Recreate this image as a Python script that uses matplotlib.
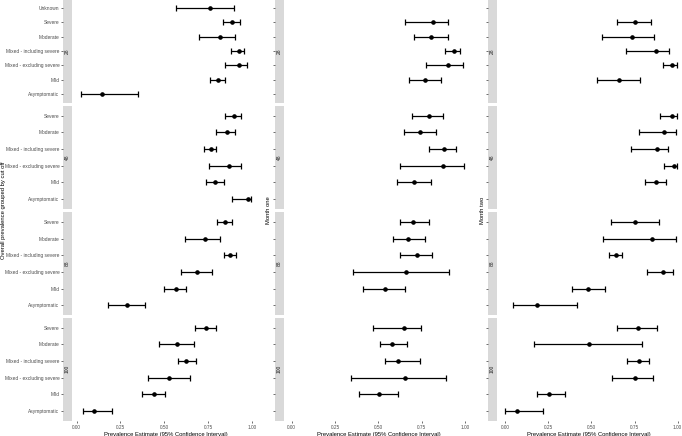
import numpy as np
import matplotlib
matplotlib.use("Agg")
import matplotlib.pyplot as plt

plt.rcParams['font.family'] = ['Liberation Sans', 'DejaVu Sans']

nan = np.nan
categories_28 = ["Asymptomatic", "Mild", "Mixed - excluding severe", "Mixed - including severe",
                 "Moderate", "Severe", "Unknown"]
categories = ["Asymptomatic", "Mild", "Mixed - excluding severe", "Mixed - including severe",
              "Moderate", "Severe"]
cutoffs = ["28", "48", "88", "100"]
panel_titles = ["Overall prevalence grouped by cut off", "Month one", "Month two"]
x_ticks = [0.00, 0.25, 0.50, 0.75, 1.00]
x_title = "Prevalence Estimate (95% Confidence Interval)"

# Overall
overall_est_28 = [0.143, 0.809, 0.929, 0.926, 0.821, 0.889, 0.762]
overall_lo_28 = [0.025, 0.762, 0.849, 0.884, 0.701, 0.834, 0.567]
overall_hi_28 = [0.352, 0.849, 0.975, 0.956, 0.907, 0.935, 0.899]
overall_est_48 = [0.977, 0.792, 0.869, 0.766, 0.857, 0.897]
overall_lo_48 = [0.887, 0.739, 0.758, 0.726, 0.794, 0.846]
overall_hi_48 = [0.998, 0.840, 0.941, 0.798, 0.907, 0.939]
overall_est_88 = [0.286, 0.567, 0.686, 0.878, 0.733, 0.847]
overall_lo_88 = [0.177, 0.497, 0.594, 0.842, 0.617, 0.800]
overall_hi_88 = [0.390, 0.626, 0.775, 0.910, 0.821, 0.889]
overall_est_100 = [0.099, 0.440, 0.529, 0.625, 0.575, 0.741]
overall_lo_100 = [0.034, 0.371, 0.405, 0.577, 0.470, 0.674]
overall_hi_100 = [0.200, 0.505, 0.647, 0.682, 0.672, 0.794]

# Month one
m1_est_28 = [nan, 0.769, 0.902, 0.933, 0.800, 0.815, nan]
m1_lo_28 = [nan, 0.675, 0.773, 0.885, 0.704, 0.654, nan]
m1_hi_28 = [nan, 0.858, 0.985, 0.967, 0.898, 0.898, nan]
m1_est_48 = [nan, 0.704, 0.869, 0.875, 0.739, 0.788]
m1_lo_48 = [nan, 0.604, 0.621, 0.788, 0.646, 0.692]
m1_hi_48 = [nan, 0.800, 0.990, 0.944, 0.831, 0.869]
m1_est_88 = [nan, 0.540, 0.660, 0.723, 0.669, 0.700]
m1_lo_88 = [nan, 0.408, 0.352, 0.621, 0.581, 0.621]
m1_hi_88 = [nan, 0.652, 0.904, 0.808, 0.769, 0.788]
m1_est_100 = [nan, 0.502, 0.654, 0.615, 0.579, 0.648]
m1_lo_100 = [nan, 0.385, 0.340, 0.538, 0.508, 0.467]
m1_hi_100 = [nan, 0.615, 0.890, 0.738, 0.667, 0.742]

# Month two
m2_est_28 = [nan, 0.658, 0.970, 0.877, 0.737, 0.753, nan]
m2_lo_28 = [nan, 0.532, 0.916, 0.702, 0.561, 0.650, nan]
m2_hi_28 = [nan, 0.784, 0.999, 0.951, 0.863, 0.848, nan]
m2_est_48 = [nan, 0.875, 0.978, 0.883, 0.923, 0.966]
m2_lo_48 = [nan, 0.809, 0.921, 0.728, 0.778, 0.896]
m2_hi_48 = [nan, 0.931, 0.999, 0.946, 0.993, 0.995]
m2_est_88 = [0.185, 0.482, 0.916, 0.641, 0.854, 0.753]
m2_lo_88 = [0.042, 0.389, 0.821, 0.600, 0.567, 0.615]
m2_hi_88 = [0.414, 0.578, 0.974, 0.679, 0.989, 0.891]
m2_est_100 = [0.065, 0.255, 0.753, 0.774, 0.485, 0.770]
m2_lo_100 = [0.000, 0.181, 0.617, 0.706, 0.164, 0.646]
m2_hi_100 = [0.220, 0.346, 0.858, 0.834, 0.795, 0.883]

panels = [
    [(overall_est_28, overall_lo_28, overall_hi_28), (overall_est_48, overall_lo_48, overall_hi_48),
     (overall_est_88, overall_lo_88, overall_hi_88), (overall_est_100, overall_lo_100, overall_hi_100)],
    [(m1_est_28, m1_lo_28, m1_hi_28), (m1_est_48, m1_lo_48, m1_hi_48),
     (m1_est_88, m1_lo_88, m1_hi_88), (m1_est_100, m1_lo_100, m1_hi_100)],
    [(m2_est_28, m2_lo_28, m2_hi_28), (m2_est_48, m2_lo_48, m2_hi_48),
     (m2_est_88, m2_lo_88, m2_hi_88), (m2_est_100, m2_lo_100, m2_hi_100)],
]

W, H = 682, 436
fig = plt.figure(figsize=(W / 100, H / 100), dpi=100)
fig.patch.set_facecolor("white")

# pixel layout
strip_x = [(63, 72), (274.5, 283.5), (487.5, 496.5)]
panel_x = [(72, 260), (283.5, 474), (496.5, 682)]
xlims = [(-0.027, 1.047), (-0.047, 1.05), (-0.052, 1.026)]
facet_y = [(-0.6, 102.7), (105.7, 209), (212, 315.3), (317.7, 421)]
title_x = [4, 269, 482]

def rect(x0, x1, y0, y1):
    return [x0 / W, 1 - y1 / H, (x1 - x0) / W, (y1 - y0) / H]

tick_col = "#333333"
lab_col = "#4D4D4D"

for p in range(3):
    for f in range(4):
        cats = categories_28 if f == 0 else categories
        n = len(cats)
        pos = np.arange(1, n + 1)
        est, lo, hi = [np.array(a, dtype=float) for a in panels[p][f]]
        y0, y1 = facet_y[f]
        ax = fig.add_axes(rect(panel_x[p][0], panel_x[p][1], y0, y1))
        ax.set_facecolor("white")
        for s in ax.spines.values():
            s.set_visible(False)
        ax.errorbar(est, pos, xerr=[est - lo, hi - est], fmt="o", color="black",
                    ecolor="black", elinewidth=0.9, capsize=2.3, capthick=0.9,
                    markersize=2.3, zorder=3)
        ax.set_ylim(0.4, n + 0.6)
        ax.set_xlim(*xlims[p])
        ax.set_yticks([])
        ax.set_xticks(x_ticks)
        ax.tick_params(axis="x", length=1.6, width=0.5, color=tick_col, pad=1.2,
                       labelsize=3.4, labelcolor=lab_col)
        if f < 3:
            ax.tick_params(axis="x", length=0, labelbottom=False)
        else:
            ax.set_xticklabels(["%.2f" % t for t in x_ticks])
            ax.set_xlabel(x_title, fontsize=4.2, labelpad=1.5, color="black")

        sx = fig.add_axes(rect(strip_x[p][0], strip_x[p][1], y0, y1))
        sx.set_facecolor("#D9D9D9")
        for s in sx.spines.values():
            s.set_visible(False)
        sx.set_xlim(0, 1)
        sx.set_ylim(0.4, n + 0.6)
        sx.set_xticks([])
        sx.set_yticks(pos)
        if p == 0:
            sx.set_yticklabels(cats)
        else:
            sx.set_yticklabels([""] * n)
        sx.tick_params(axis="y", length=1.6, width=0.5, color=tick_col, pad=1.0,
                       labelsize=3.5, labelcolor=lab_col)
        sx.text(0.5, 0.5, cutoffs[f], transform=sx.transAxes, rotation=90,
                ha="center", va="center", fontsize=3.5, color="#1A1A1A")

    fig.text(title_x[p] / W, 1 - 210 / H, panel_titles[p], rotation=90,
             ha="center", va="center", fontsize=4.2, color="black")

fig.savefig("out.png", dpi=100, facecolor="white")
